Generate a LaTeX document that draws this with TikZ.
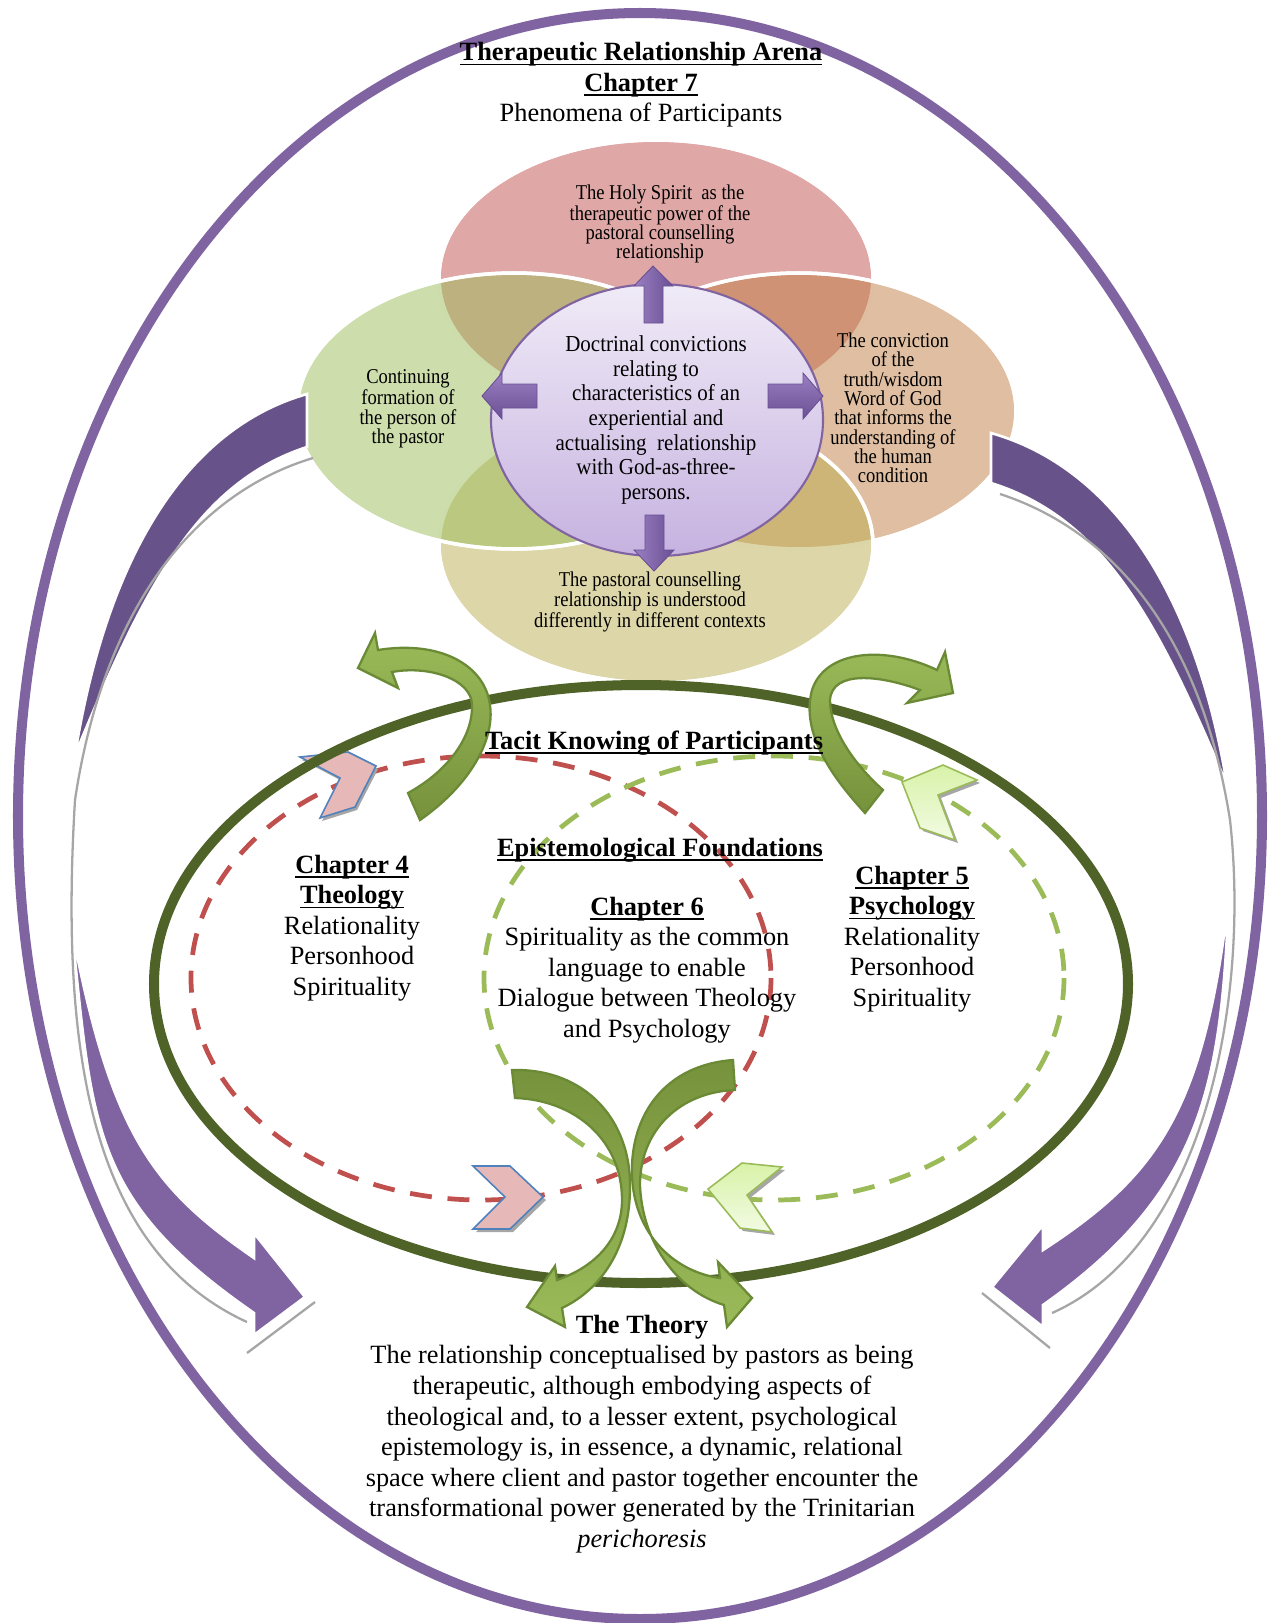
\documentclass[tikz,border=0pt]{standalone}
\usepackage{fontspec}
\setmainfont{Liberation Serif}
\newfontfamily\petalfont[FakeStretch=0.88]{Liberation Serif}
\newfontfamily\ctrfont[FakeStretch=0.92]{Liberation Serif}
% bold heading with a heavier underline
\newcommand{\hd}[1]{{\bfseries\setbox0=\hbox{#1}\rlap{\rule[-2.6pt]{\wd0}{1pt}}\box0}}

\definecolor{purp}{HTML}{8064A2}
\definecolor{purpdark}{HTML}{67538A}
\definecolor{olive}{HTML}{4F6228}
\definecolor{redd}{HTML}{C0504D}
\definecolor{grn}{HTML}{9BBB59}
\definecolor{grndark}{HTML}{76923C}
\definecolor{hookedge}{HTML}{6B8A36}
\definecolor{pinkfill}{HTML}{E6B9B8}
\definecolor{blueline}{HTML}{4F81BD}
\definecolor{chevtop}{HTML}{D8F2A8}
\definecolor{chevbot}{HTML}{F2FBE3}
\definecolor{petalpink}{HTML}{C0504D}
\definecolor{petalpeach}{HTML}{BF7D43}
\definecolor{petalkhaki}{HTML}{BBAD51}
\definecolor{petalgreen}{HTML}{9BBB59}
\definecolor{ctrtop}{HTML}{F0EBF7}
\definecolor{ctrbot}{HTML}{C6B2E0}
\definecolor{arrlight}{HTML}{9A80C2}
\definecolor{arrdark}{HTML}{6A4F94}

\begin{document}
\begin{tikzpicture}[x=0.02cm,y=-0.02cm,
  petal/.style={draw=white,line width=2pt,fill opacity=0.5},
  bandlight/.style={fill=purp,draw=white,line width=1.5pt},
  banddark/.style={fill=purpdark,draw=white,line width=1.5pt},
  shadowline/.style={draw=black!35,line width=1.3pt},
  smallarrow/.style={draw=arrdark,line width=0.5pt},
  hookup/.style={draw=hookedge,line width=1.3pt,top color=grn,bottom color=grndark},
  hookdown/.style={draw=hookedge,line width=1.3pt,top color=grndark,bottom color=grn},
  dashred/.style={draw=redd,line width=2.7pt,dash pattern=on 12.5pt off 9pt},
  dashgreen/.style={draw=grn,line width=2.7pt,dash pattern=on 12.5pt off 9pt},
  pinkchev/.style={fill=pinkfill,draw=blueline,line width=0.9pt},
  greenchev/.style={top color=chevtop,bottom color=chevbot,draw=grn,line width=0.9pt},
  chevshadow/.style={fill=black!35},
  txt/.style={align=center,inner sep=0pt,font=\fontsize{15}{17.4}\selectfont},
  ptxt/.style={align=center,inner sep=0pt,font=\petalfont\fontsize{12}{11}\selectfont},
  ctxt/.style={align=center,inner sep=0pt,font=\ctrfont\fontsize{13}{14}\selectfont},
]
\useasboundingbox (0,0) rectangle (1276,1623);

% outer arena
\draw[purp,line width=5.7pt] (640,816) ellipse [x radius=622,y radius=803];

% four overlapping petals
\fill[petal,fill=petalpink]  (656,278) ellipse [x radius=217,y radius=138];
\draw[white,line width=2pt]  (656,278) ellipse [x radius=217,y radius=138];
\fill[petal,fill=petalpeach] (799,411) ellipse [x radius=217,y radius=138];
\draw[white,line width=2pt]  (799,411) ellipse [x radius=217,y radius=138];
\fill[petal,fill=petalkhaki] (656,545) ellipse [x radius=217,y radius=138];
\draw[white,line width=2pt]  (656,545) ellipse [x radius=217,y radius=138];
\fill[petal,fill=petalgreen] (514,411) ellipse [x radius=217,y radius=138];
\draw[white,line width=2pt]  (514,411) ellipse [x radius=217,y radius=138];

% central circle
\shadedraw[top color=ctrtop,bottom color=ctrbot,draw=purp,line width=1.2pt]
  (657,420) ellipse [x radius=166,y radius=136];

% four small arrows from the core
\shadedraw[smallarrow,left color=arrlight,right color=arrdark]
  (644,323) -- (644,286) -- (634,286) -- (653,266) -- (673,286) -- (663,286) -- (663,323) -- cycle;
\shadedraw[smallarrow,left color=arrlight,right color=arrdark]
  (645,515) -- (645,550) -- (634,550) -- (654,571) -- (674,550) -- (664,550) -- (664,515) -- cycle;
\shadedraw[smallarrow,top color=arrlight,bottom color=arrdark]
  (537,384) -- (502,384) -- (502,373) -- (482,396) -- (502,419) -- (502,408) -- (537,408) -- cycle;
\shadedraw[smallarrow,top color=arrlight,bottom color=arrdark]
  (768,384) -- (803,384) -- (803,373) -- (823,396) -- (803,419) -- (803,408) -- (768,408) -- cycle;

% large circular arrows, left side
\fill[banddark] (307,394) .. controls (187,428) and (107,555) .. (75,755)
  .. controls (144,587) and (197,483) .. (307,447) -- cycle;
\fill[bandlight] (76,950) .. controls (114,1139) and (157,1191) .. (254,1258)
  -- (254,1233) -- (305,1297) -- (254,1335) -- (254,1313)
  .. controls (97,1204) and (93,1135) .. (74,950) -- cycle;
\draw[shadowline] (313,458) .. controls (200,492) and (105,600) .. (75,800)
  .. controls (60,1050) and (90,1250) .. (247,1322);
\draw[shadowline] (247,1353) -- (315,1302);

% large circular arrows, right side
\fill[banddark] (991,433) .. controls (1111,467) and (1195,590) .. (1227,785)
  .. controls (1158,622) and (1105,519) .. (991,483) -- cycle;
\fill[bandlight] (1224,935) .. controls (1198,1120) and (1150,1180) .. (1043,1250)
  -- (1043,1225) -- (992,1287) -- (1043,1327) -- (1043,1305)
  .. controls (1192,1200) and (1218,1100) .. (1227,935) -- cycle;
\draw[shadowline] (1000,494) .. controls (1110,530) and (1200,630) .. (1230,820)
  .. controls (1250,1000) and (1205,1245) .. (1052,1313);
\draw[shadowline] (982,1293) -- (1050,1348);

% theology and psychology loops
\draw[dashred]   (481,978) ellipse [x radius=290,y radius=222];
\draw[dashgreen] (774,978) ellipse [x radius=290,y radius=222];

% chevrons riding on the loops
\fill[chevshadow] (302,760) -- (350,755) -- (378,769) -- (357,810) -- (322,821) -- (342,781) -- cycle;
\draw[pinkchev] (300,757) -- (348,752) -- (376,766) -- (355,807) -- (320,818) -- (340,778) -- cycle;
\fill[chevshadow] (476,1169) -- (513,1169) -- (546,1200) -- (513,1232) -- (476,1232) -- (508,1200) -- cycle;
\draw[pinkchev] (473,1166) -- (510,1166) -- (543,1197) -- (510,1229) -- (473,1229) -- (505,1197) -- cycle;
\fill[chevshadow] (905,785) -- (946,768) -- (980,783) -- (941,798) -- (958,843) -- (923,831) -- cycle;
\shadedraw[greenchev] (902,782) -- (943,765) -- (977,780) -- (938,795) -- (955,840) -- (920,828) -- cycle;
\fill[chevshadow] (785,1170) -- (745,1166) -- (711,1192) -- (743,1231) -- (775,1235) -- (750,1198) -- cycle;
\shadedraw[greenchev] (782,1167) -- (742,1163) -- (708,1189) -- (740,1228) -- (772,1232) -- (747,1195) -- cycle;

% tacit knowing arena
\draw[olive,line width=5.7pt] (641,984) ellipse [x radius=487,y radius=299];

% green hooked arrows
\shadedraw[hookup] (408,793) -- (420,820) .. controls (470,785) and (495,740) .. (490,705)
  .. controls (485,665) and (440,640) .. (378,650) -- (375,633) -- (358,668) -- (398,688) -- (392,672)
  .. controls (430,665) and (472,680) .. (472,705) .. controls (473,735) and (450,770) .. (408,793) -- cycle;
\shadedraw[hookup] (883,790) -- (865,813) .. controls (835,780) and (800,735) .. (812,690)
  .. controls (825,650) and (885,645) .. (937,670) -- (945,652) -- (953,693) -- (907,703) -- (920,690)
  .. controls (880,675) and (832,670) .. (830,700) .. controls (830,730) and (855,765) .. (883,790) -- cycle;
\shadedraw[hookdown] (512,1070) .. controls (585,1068) and (632,1120) .. (630,1190)
  .. controls (629,1250) and (600,1290) .. (562,1308) -- (565,1327) -- (527,1307) -- (555,1266) -- (557,1280)
  .. controls (600,1265) and (622,1235) .. (622,1200) .. controls (622,1140) and (575,1100) .. (515,1098) -- cycle;
\shadedraw[hookdown] (733,1060) .. controls (665,1065) and (630,1115) .. (632,1175)
  .. controls (634,1235) and (675,1272) .. (720,1278) -- (718,1262) -- (752,1298) -- (727,1327) -- (724,1305)
  .. controls (675,1290) and (642,1240) .. (640,1185) .. controls (640,1130) and (680,1092) .. (735,1090) -- cycle;

% petal and core texts
\node[ptxt] (ptop) at (660,224) {The Holy Spirit\ \ as the\\ therapeutic power of the\\ pastoral counselling\\ relationship};
\node[ptxt] (pleft) at (408,409) {Continuing\\ formation of\\ the person of\\ the pastor};
\node[ptxt] (pright) at (893,408) {The conviction\\ of the\\ truth/wisdom\\ Word of God\\ that informs the\\ understanding of\\ the human\\ condition};
\node[ptxt] (pbot) at (650,602) {The pastoral counselling\\ relationship is understood\\ differently in different contexts};
\node[ctxt] (core) at (656,420) {Doctrinal convictions\\ relating to\\ characteristics of an\\ experiential and\\ actualising\ \ relationship\\ with God-as-three-\\ persons.};

% headings and chapter texts
\node[txt] (title) at (641,85) {\hd{Therapeutic Relationship Arena}\\ \hd{Chapter 7}\\ Phenomena of Participants};
\node[txt] (tacit) at (654,743) {\hd{Tacit Knowing of Participants}};
\node[txt] (epi) at (660,850) {\hd{Epistemological Foundations}};
\node[txt] (ch4) at (352,928) {\hd{Chapter 4}\\ \hd{Theology}\\ Relationality\\ Personhood\\ Spirituality};
\node[txt] (ch5) at (912,939) {\hd{Chapter 5}\\ \hd{Psychology}\\ Relationality\\ Personhood\\ Spirituality};
\node[txt] (ch6) at (647,970) {\hd{Chapter 6}\\ Spirituality as the common\\ language to enable\\ Dialogue between Theology\\ and Psychology};
\node[txt] (theory) at (642,1434) {\textbf{The Theory}\\ The relationship conceptualised by pastors as being\\ therapeutic, although embodying aspects of\\ theological and, to a lesser extent, psychological\\ epistemology is, in essence, a dynamic, relational\\ space where client and pastor together encounter the\\ transformational power generated by the Trinitarian\\ \textit{perichoresis}};
\end{tikzpicture}
\end{document}
